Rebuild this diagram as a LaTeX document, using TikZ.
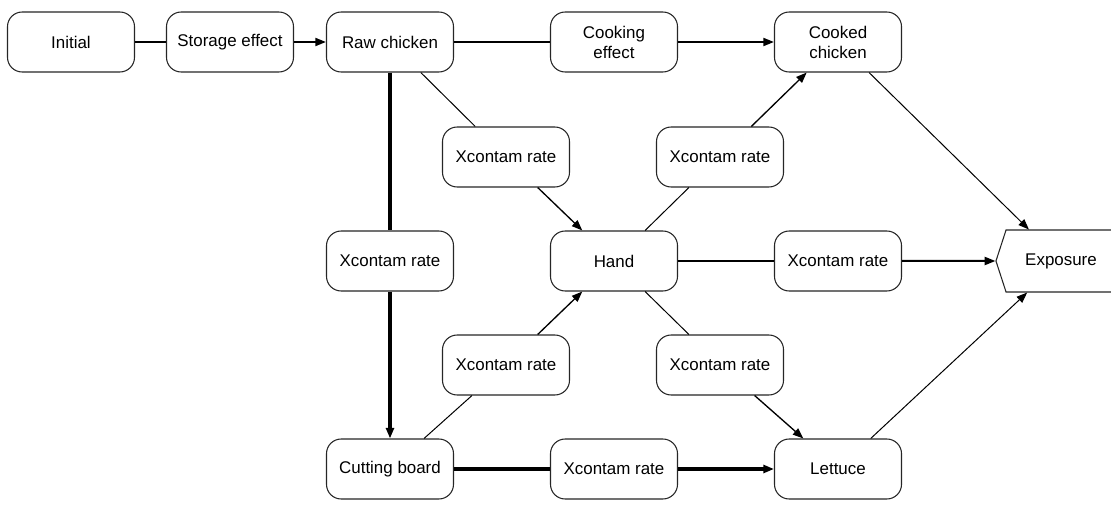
\documentclass[tikz,border=0pt]{standalone}
\usepackage{fontspec}
\setmainfont{Liberation Sans}
\usetikzlibrary{arrows.meta,shapes.symbols}

\tikzset{
  box/.style={draw=black!85, line width=0.8pt, rounded corners=11pt, fill=white,
    minimum width=95.25pt, minimum height=45pt, inner sep=1pt, align=center,
    font=\fontsize{12.7}{15}\selectfont},
  thinline/.style={line width=0.75pt},
  midline/.style={line width=1.5pt},
  thickline/.style={line width=2.3pt},
  heavyline/.style={line width=3pt},
  tip/.style={-{Triangle[length=8pt,width=6pt]}},
}

\begin{document}
\begin{tikzpicture}[x=0.75pt,y=0.75pt,yscale=-1,xscale=1]
\useasboundingbox (0,0) rectangle (1111,506);

% Text Node
\node [box] (init) at (71,42) {Initial};
% Text Node
\node [box] (storage) at (230,42) {Storage effect};
% Text Node
\node [box] (raw) at (390,42) {Raw chicken};
% Text Node
\node [box] (cookeff) at (614,42) {Cooking\\effect};
% Text Node
\node [box] (cooked) at (838,42) {Cooked\\chicken};
% Text Node
\node [box] (xul) at (506,157) {Xcontam rate};
% Text Node
\node [box] (xur) at (720,157) {Xcontam rate};
% Text Node
\node [box] (xleft) at (390,261) {Xcontam rate};
% Text Node
\node [box] (hand) at (614,261) {Hand};
% Text Node
\node [box] (xmid) at (838,261) {Xcontam rate};
% Shape: Signal
\node [box, rounded corners=0pt, shape=signal, signal to=west, signal from=nowhere,
  signal pointer angle=144, minimum width=90pt, minimum height=46.5pt] (expo) at (1061,261) {Exposure};
% Text Node
\node [box] (xll) at (506,365) {Xcontam rate};
% Text Node
\node [box] (xlr) at (720,365) {Xcontam rate};
% Text Node
\node [box] (board) at (390,469) {Cutting board};
% Text Node
\node [box] (xbot) at (614,469) {Xcontam rate};
% Text Node
\node [box] (lettuce) at (838,469) {Lettuce};

%Straight Lines
\draw [midline] (init) -- (storage) ;
\draw [midline, tip] (storage) -- (raw) ;
\draw [midline] (raw) -- (cookeff) ;
\draw [midline, tip] (cookeff) -- (cooked) ;
%Straight Lines
\draw [heavyline] (raw) -- (xleft) ;
\draw [heavyline, tip] (xleft) -- (board) ;
%Straight Lines
\draw [thinline] (raw) -- (xul) ;
\draw [thinline, line width=1pt, tip] (xul) -- (hand) ;
\draw [thinline] (hand) -- (xur) ;
\draw [thinline, line width=1pt, tip] (xur) -- (cooked) ;
\draw [midline] (hand) -- (xmid) ;
\draw [midline, tip] (xmid) -- (expo) ;
\draw [thinline] (hand) -- (xlr) ;
\draw [thinline, line width=1pt, tip] (xlr) -- (lettuce) ;
\draw [thinline] (board) -- (xll) ;
\draw [thinline, line width=1pt, tip] (xll) -- (hand) ;
\draw [thickline] (board) -- (xbot) ;
\draw [thickline, tip] (xbot) -- (lettuce) ;
%Straight Lines
\draw [thinline, tip] (cooked) -- (expo) ;
\draw [thinline, tip] (lettuce) -- (expo) ;

\end{tikzpicture}
\end{document}
